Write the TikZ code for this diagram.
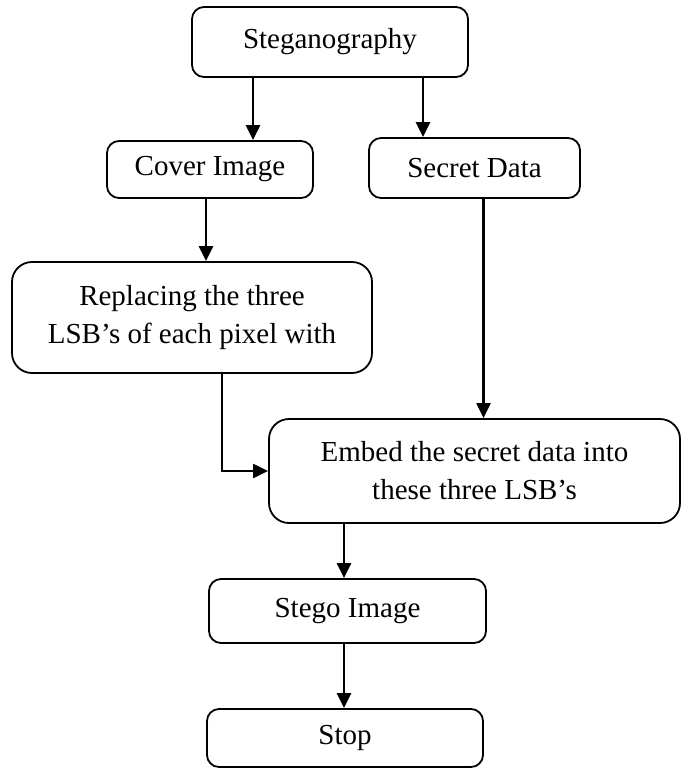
\documentclass[tikz,border=0pt]{standalone}
\usepackage{fontspec}
\setmainfont{Liberation Serif}
\usetikzlibrary{arrows.meta}
\begin{document}
\begin{tikzpicture}[x=1pt,y=-1pt,
  box/.style={draw,line width=1.8pt,rounded corners=12pt,align=center,inner sep=0pt,
    font=\fontsize{29}{38}\selectfont},
  arr/.style={line width=2.6pt,-{Triangle[length=15pt,width=14pt]}},
  ln/.style={line width=2.2pt}]
\useasboundingbox (0,0) rectangle (682,769);
\node[box,minimum width=276pt,minimum height=70pt] (steg) at (330,42) {Steganography};
\node[box,minimum width=206pt,minimum height=57pt] (cover) at (210,169.5) {Cover Image};
\node[box,minimum width=211pt,minimum height=60pt] (secret) at (474.5,168) {Secret Data};
\node[box,rounded corners=20pt,minimum width=360pt,minimum height=111pt] (repl) at (192,317.5) {Replacing the three\\LSB’s of each pixel with};
\node[box,rounded corners=20pt,minimum width=411pt,minimum height=104pt] (embed) at (474.5,471) {Embed the secret data into\\these three LSB’s};
\node[box,minimum width=277pt,minimum height=64pt] (stego) at (347.5,611) {Stego Image};
\node[box,minimum width=276pt,minimum height=58pt] (stop) at (345,738) {Stop};
\draw[arr] ([xshift=-77pt]steg.south) -- ([xshift=43pt]cover.north);
\draw[arr] ([xshift=93pt]steg.south) -- ([xshift=-51.5pt]secret.north);
\draw[arr] ([xshift=-4pt]cover.south) -- ([xshift=14pt]repl.north);
\draw[arr,line width=2.2pt] ([xshift=9pt]secret.south) -- ([xshift=9pt]embed.north);
\draw[arr,line width=2.2pt] ([xshift=30pt]repl.south) |- (embed.west);
\draw[arr] ([xshift=-130.5pt]embed.south) -- ([xshift=-3.5pt]stego.north);
\draw[arr] ([xshift=-3.5pt]stego.south) -- ([xshift=-1pt]stop.north);
\end{tikzpicture}
\end{document}
